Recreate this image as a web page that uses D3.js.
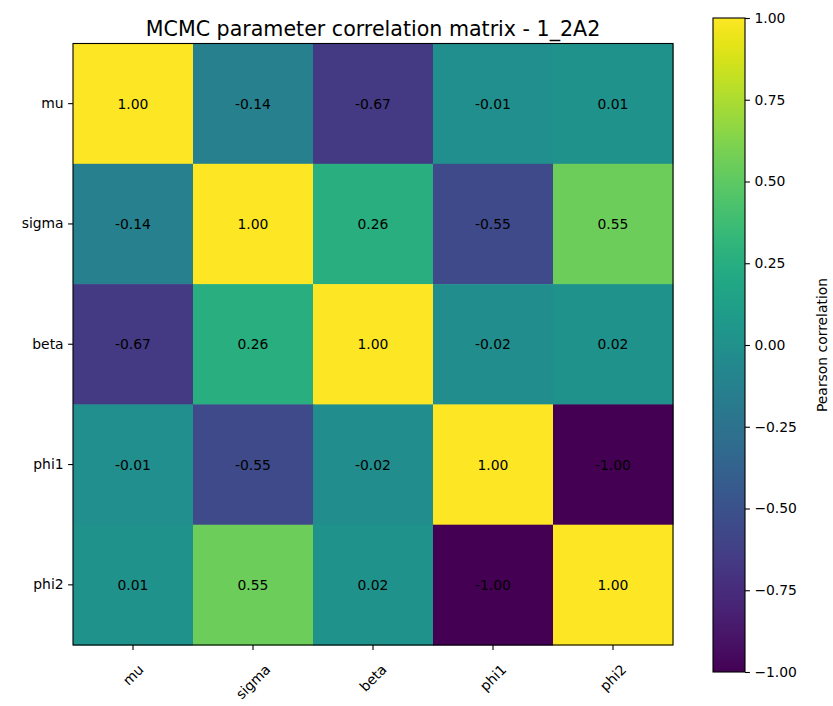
<!DOCTYPE html>
<html>
<head>
<meta charset="utf-8">
<script src="https://cdn.jsdelivr.net/npm/d3@7"></script>
<style>
  html, body { margin: 0; padding: 0; background: #fff; }
  svg { display: block; font-family: "DejaVu Sans", sans-serif; }
</style>
</head>
<body>
<svg id="chart" width="833" height="706"></svg>
<script>
// Parameters and their pairwise Pearson correlations
const params = ["mu", "sigma", "beta", "phi1", "phi2"];
const corrMu    = [ 1.00, -0.14, -0.67, -0.01,  0.01];
const corrSigma = [-0.14,  1.00,  0.26, -0.55,  0.55];
const corrBeta  = [-0.67,  0.26,  1.00, -0.02,  0.02];
const corrPhi1  = [-0.01, -0.55, -0.02,  1.00, -1.00];
const corrPhi2  = [ 0.01,  0.55,  0.02, -1.00,  1.00];
const colorbarTicks = [1.00, 0.75, 0.50, 0.25, 0.00, -0.25, -0.50, -0.75, -1.00];
const titleText = "MCMC parameter correlation matrix - 1_2A2";
const colorbarLabel = "Pearson correlation";

const matrix = [corrMu, corrSigma, corrBeta, corrPhi1, corrPhi2];
const cells = [];
matrix.forEach((row, i) => row.forEach((v, j) => cells.push({ row: params[i], col: params[j], v })));

const svg = d3.select("#chart");
const m = { left: 73, top: 43.5, right: 673, bottom: 645 };
const fs = 13.9;
const minus = s => s.replace("-", "\u2212");

const x = d3.scaleBand().domain(params).range([m.left, m.right]);
const y = d3.scaleBand().domain(params).range([m.top, m.bottom]);
const color = d3.scaleSequential(d3.interpolateViridis).domain([-1, 1]);

// Heatmap cells
svg.append("g").selectAll("rect").data(cells).join("rect")
  .attr("x", d => x(d.col)).attr("y", d => y(d.row))
  .attr("width", x.bandwidth() + 0.5).attr("height", y.bandwidth() + 0.5)
  .attr("fill", d => color(d.v));

// Value annotations
svg.append("g").selectAll("text").data(cells).join("text")
  .attr("x", d => x(d.col) + x.bandwidth() / 2)
  .attr("y", d => y(d.row) + y.bandwidth() / 2)
  .attr("text-anchor", "middle").attr("dominant-baseline", "central")
  .attr("font-size", fs).attr("fill", "#000")
  .text(d => d.v.toFixed(2));

// Frame
svg.append("rect")
  .attr("x", m.left).attr("y", m.top)
  .attr("width", m.right - m.left).attr("height", m.bottom - m.top)
  .attr("fill", "none").attr("stroke", "#000").attr("stroke-width", 1.1);

// Y axis
const yAxis = svg.append("g").attr("transform", `translate(${m.left},0)`)
  .call(d3.axisLeft(y).tickSize(4.9).tickPadding(4.5));
yAxis.select(".domain").remove();
yAxis.selectAll("line").attr("stroke", "#000").attr("stroke-width", 1.1);
yAxis.selectAll("text").attr("font-size", fs).attr("fill", "#000")
  .attr("font-family", "DejaVu Sans, sans-serif").attr("dy", "0.32em");

// X axis with labels rotated 45° and centred under each tick
const xAxis = svg.append("g").attr("transform", `translate(0,${m.bottom})`)
  .call(d3.axisBottom(x).tickSize(4.9).tickFormat(""));
xAxis.select(".domain").remove();
xAxis.selectAll("line").attr("stroke", "#000").attr("stroke-width", 1.1);
const xl = svg.append("g").selectAll("text").data(params).join("text")
  .attr("font-size", fs).attr("fill", "#000")
  .attr("text-anchor", "middle").attr("dominant-baseline", "central")
  .text(d => d);
xl.each(function(d) {
  const w = this.getComputedTextLength();
  const h = fs;
  const half = (w + h) * Math.SQRT1_2 / 2;
  const cx = x(d) + x.bandwidth() / 2;
  const cy = m.bottom + 17 + half;
  d3.select(this).attr("x", cx).attr("y", cy)
    .attr("transform", `rotate(-45,${cx},${cy})`);
});

// Title
svg.append("text")
  .attr("x", (m.left + m.right) / 2).attr("y", 36)
  .attr("text-anchor", "middle").attr("font-size", 20.6).attr("fill", "#000")
  .text(titleText);

// Colour bar
const cb = { x: 713, y0: 18, y1: 672, w: 32 };
const cbScale = d3.scaleLinear().domain([-1, 1]).range([cb.y1, cb.y0]);
const grad = svg.append("defs").append("linearGradient")
  .attr("id", "viridisGrad").attr("x1", 0).attr("y1", 1).attr("x2", 0).attr("y2", 0);
grad.selectAll("stop").data(d3.range(0, 1.0001, 0.02)).join("stop")
  .attr("offset", t => t).attr("stop-color", t => d3.interpolateViridis(t));
svg.append("rect")
  .attr("x", cb.x).attr("y", cb.y0).attr("width", cb.w).attr("height", cb.y1 - cb.y0)
  .attr("fill", "url(#viridisGrad)").attr("stroke", "#000").attr("stroke-width", 1.1);

const cbAxis = svg.append("g").attr("transform", `translate(${cb.x + cb.w},0)`)
  .call(d3.axisRight(cbScale).tickValues(colorbarTicks).tickSize(4.9).tickPadding(4.5)
    .tickFormat(v => minus(v.toFixed(2))));
cbAxis.select(".domain").remove();
cbAxis.selectAll("line").attr("stroke", "#000").attr("stroke-width", 1.1);
cbAxis.selectAll("text").attr("font-size", fs).attr("fill", "#000")
  .attr("font-family", "DejaVu Sans, sans-serif").attr("dy", "0.32em");

svg.append("text")
  .attr("transform", `translate(822,${(cb.y0 + cb.y1) / 2}) rotate(-90)`)
  .attr("text-anchor", "middle").attr("dominant-baseline", "central")
  .attr("font-size", fs).attr("fill", "#000")
  .text(colorbarLabel);
</script>
</body>
</html>
